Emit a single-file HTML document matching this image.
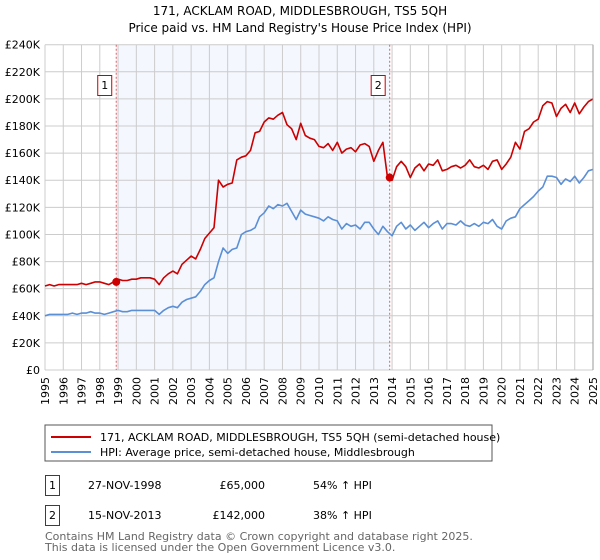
<!DOCTYPE html>
<html><head><meta charset="utf-8"><style>
body{margin:0;background:#fff;font-family:"DejaVu Sans","Liberation Sans",sans-serif;}
svg{display:block}
</style></head><body>
<svg width="600" height="560" viewBox="0 0 600 560" id="chart" font-family="DejaVu Sans, Liberation Sans, sans-serif">
<text x="300" y="15" text-anchor="middle" font-size="12" fill="#000">171, ACKLAM ROAD, MIDDLESBROUGH, TS5 5QH</text>
<text x="300" y="32" text-anchor="middle" font-size="12" fill="#000">Price paid vs. HM Land Registry's House Price Index (HPI)</text>
<g id="plot"></g>
<rect x="45" y="425" width="447" height="36" fill="#fff" stroke="#555"/>
<line x1="51" y1="437" x2="91" y2="437" stroke="#cc0000" stroke-width="2"/>
<text x="100" y="441" font-size="11">171, ACKLAM ROAD, MIDDLESBROUGH, TS5 5QH (semi-detached house)</text>
<line x1="51" y1="452" x2="91" y2="452" stroke="#5b8fd6" stroke-width="2"/>
<text x="100" y="456" font-size="11">HPI: Average price, semi-detached house, Middlesbrough</text>
<g>
<rect x="45.5" y="475.5" width="14" height="20" fill="#fff" stroke="#cc0000"/>
<text x="52.5" y="489" text-anchor="middle" font-size="11">1</text>
<text x="88" y="489" font-size="11">27-NOV-1998</text>
<text x="265" y="489" text-anchor="end" font-size="11">£65,000</text>
<text x="313" y="489" font-size="11">54% ↑ HPI</text>
</g>
<g>
<rect x="45.5" y="505.5" width="14" height="20" fill="#fff" stroke="#cc0000"/>
<text x="52.5" y="519" text-anchor="middle" font-size="11">2</text>
<text x="88" y="519" font-size="11">15-NOV-2013</text>
<text x="265" y="519" text-anchor="end" font-size="11">£142,000</text>
<text x="313" y="519" font-size="11">38% ↑ HPI</text>
</g>
<text x="45" y="540" font-size="11" fill="#666">Contains HM Land Registry data © Crown copyright and database right 2025.</text>
<text x="45" y="551" font-size="11" fill="#666">This data is licensed under the Open Government Licence v3.0.</text>
</svg>
<script>
const hpiValues=[40,41,41,41,41,41,42,41,42,42,43,42,42,41,42,43,44,43,43,44,44,44,44,44,44,41,44,46,47,46,50,52,53,54,58,63,66,68,80,90,86,89,90,100,102,103,105,113,116,121,119,122,121,123,117,111,118,115,114,113,112,110,113,111,110,104,108,106,107,104,109,109,104,100,106,102,99,106,109,104,107,103,106,109,105,108,110,104,108,108,107,110,107,106,108,106,109,108,111,106,104,110,112,113,119,122,125,128,132,135,143,143,142,137,141,139,143,138,142,147,148];
const priceValues=[62,63,62,63,63,63,63,63,64,63,64,65,65,64,63,65,67,66,66,67,67,68,68,68,67,63,68,71,73,71,78,81,84,82,89,97,101,105,140,135,137,138,155,157,158,162,175,176,183,186,185,188,190,181,178,170,182,173,171,170,165,164,167,162,168,160,163,164,161,166,167,165,154,162,168,142,140,150,154,150,142,149,152,147,152,151,155,147,148,150,151,149,151,155,150,149,151,148,154,155,148,152,157,168,163,176,178,183,185,195,198,197,187,193,196,190,197,189,194,198,200];
const yTicks=[0,20,40,60,80,100,120,140,160,180,200,220,240];
const yearTicks=[1995,1996,1997,1998,1999,2000,2001,2002,2003,2004,2005,2006,2007,2008,2009,2010,2011,2012,2013,2014,2015,2016,2017,2018,2019,2020,2021,2022,2023,2024,2025];
const saleLabels=["1","2"];
const saleDates=[1998.9,2013.87];
const salePrices=[65,142];
const startYear=1995;

const X0=45,X1=593,Y0=370,Y1=44.7;
const xs=t=>X0+(t-1995)/30*(X1-X0);
const ys=v=>Y0-v/240*(Y0-Y1);
const NS="http://www.w3.org/2000/svg";
const g=document.getElementById('plot');
function mk(tag,attrs,parent){const e=document.createElementNS(NS,tag);for(const k in attrs)e.setAttribute(k,attrs[k]);(parent||g).appendChild(e);return e;}

const shade=mk('rect',{x:xs(saleDates[0]),y:Y1,width:xs(saleDates[1])-xs(saleDates[0]),height:Y0-Y1,fill:'#f4f7fe'});



yTicks.forEach(v=>{
  const l=mk('line',{x1:X0,x2:X1,y1:ys(v),y2:ys(v),stroke:'#cccccc','stroke-width':1});
  
  
  const t=mk('text',{x:40,y:ys(v)+4,'text-anchor':'end','font-size':11,fill:'#000'});
  
  
  t.textContent=v===0?'£0':'£'+v+'K';
});
yearTicks.forEach(yr=>{
  const l=mk('line',{x1:xs(yr),x2:xs(yr),y1:Y1,y2:Y0,stroke:'#cccccc','stroke-width':1});
  
  
  const tx=xs(yr)+4, ty=405;
  const t=mk('text',{x:tx,y:ty,'text-anchor':'start','font-size':11,fill:'#000'});
  t.setAttribute('transform','rotate(-90 '+tx.toFixed(1)+' '+ty+')');
  
  
  t.textContent=yr;
});

saleDates.forEach((d,i)=>{
  const l=mk('line',{x1:xs(d),x2:xs(d),y1:Y1,y2:Y0,stroke:'#e06060','stroke-width':1,'stroke-dasharray':'2,2'});
  
  
  const r=mk('rect',{x:xs(d)-18.5,y:75.5,width:14,height:20,fill:'#fff',stroke:'#cc0000'});
  
  
  const t=mk('text',{x:xs(d)-11.5,y:89,'text-anchor':'middle','font-size':11});
  
  
  t.textContent=saleLabels[i];
});

function path(vals,color,name){
  const d=vals.map((v,i)=>(i?'L':'M')+xs(startYear+i/4).toFixed(1)+','+ys(v).toFixed(1)).join('');
  const p=mk('path',{d:d,fill:'none',stroke:color,'stroke-width':1.6,'stroke-linejoin':'round'});
  
  
}
path(hpiValues,'#5b8fd6','hpi-line');
path(priceValues,'#cc0000','price-line');

saleDates.forEach((d,i)=>{
  const c=mk('circle',{cx:xs(d),cy:ys(salePrices[i]),r:4,fill:'#cc0000'});
  
  
});
const ax=mk('line',{x1:X1,x2:X1,y1:Y1,y2:Y0,stroke:'#999','stroke-width':1});


</script>
</body></html>
